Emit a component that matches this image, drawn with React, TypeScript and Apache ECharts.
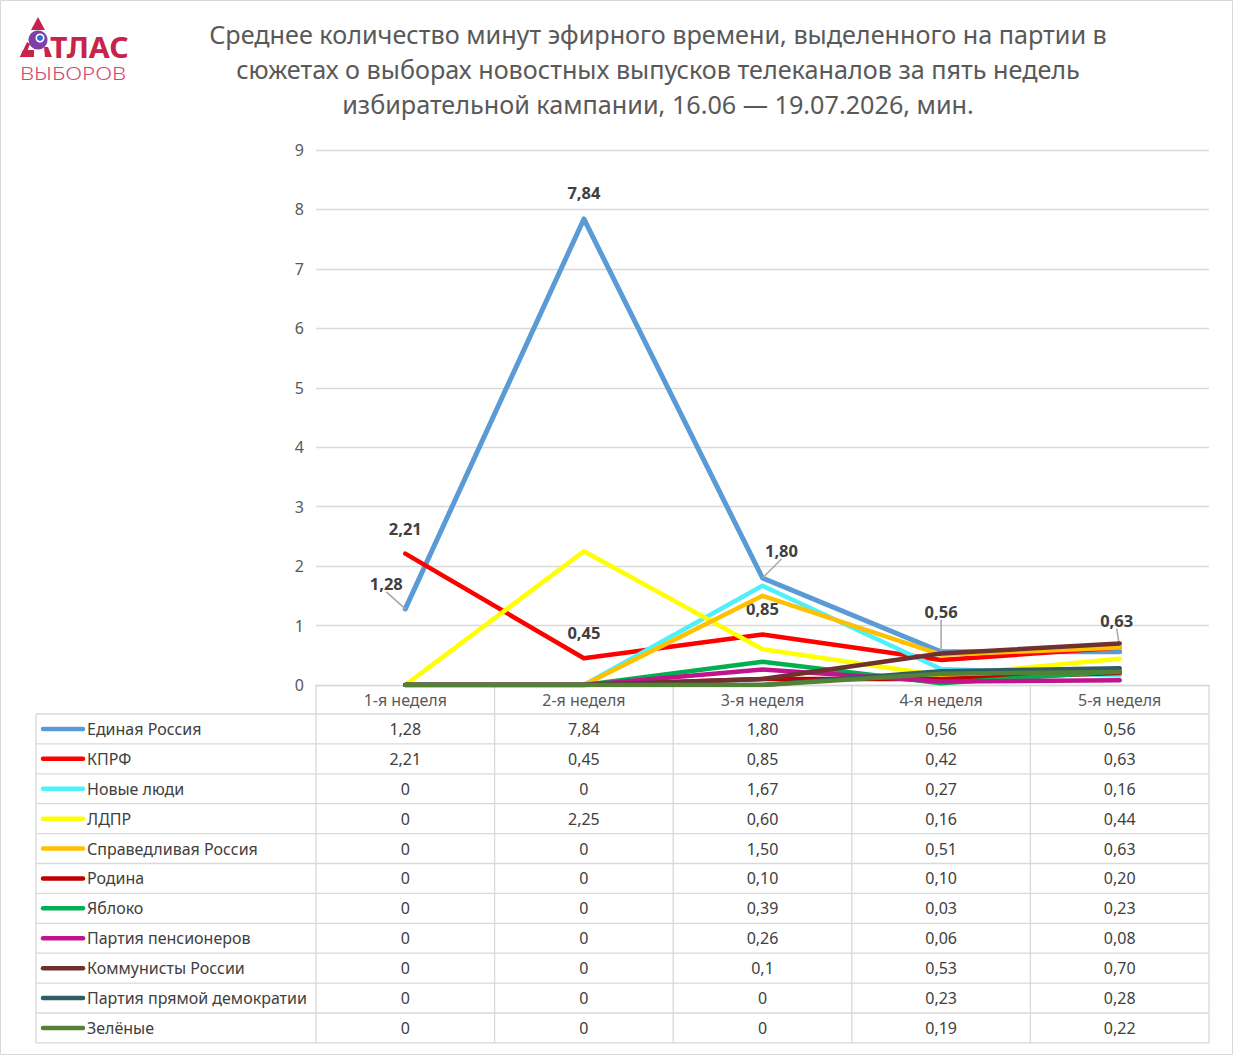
import React, { useEffect, useRef } from "react";
import * as echarts from "echarts";

const weeks = ["1-я неделя", "2-я неделя", "3-я неделя", "4-я неделя", "5-я неделя"];
const yTicks = [0, 1, 2, 3, 4, 5, 6, 7, 8, 9];

const erText = ["1,28", "7,84", "1,80", "0,56", "0,56"];
const kprfText = ["2,21", "0,45", "0,85", "0,42", "0,63"];
const nlText = ["0", "0", "1,67", "0,27", "0,16"];
const ldprText = ["0", "2,25", "0,60", "0,16", "0,44"];
const srText = ["0", "0", "1,50", "0,51", "0,63"];
const rodinaText = ["0", "0", "0,10", "0,10", "0,20"];
const yablokoText = ["0", "0", "0,39", "0,03", "0,23"];
const pensText = ["0", "0", "0,26", "0,06", "0,08"];
const komText = ["0", "0", "0,1", "0,53", "0,70"];
const ppdText = ["0", "0", "0", "0,23", "0,28"];
const greenText = ["0", "0", "0", "0,19", "0,22"];

const seriesNames = [
  "Единая Россия", "КПРФ", "Новые люди", "ЛДПР", "Справедливая Россия", "Родина",
  "Яблоко", "Партия пенсионеров", "Коммунисты России", "Партия прямой демократии", "Зелёные",
];
const seriesTexts = [erText, kprfText, nlText, ldprText, srText, rodinaText, yablokoText, pensText, komText, ppdText, greenText];
const colors = [
  "#5b9bd5", "#ff0000", "#4ff0fa", "#ffff00", "#ffc000", "#c00000",
  "#00b050", "#c0148c", "#6f3030", "#2f5d66", "#538135",
];

// which points carry data labels
const erLabelIdx = [0, 1, 2, 3];
const kprfLabelIdx = [0, 1, 2, 4];

const toNum = (s: string) => parseFloat(s.replace(",", "."));

export default function App() {
  const ref = useRef<HTMLDivElement>(null);
  useEffect(() => {
    document.body.style.margin = "0";
    const chart = echarts.init(ref.current!, null, { renderer: "svg" });
    const GL = 316, GR = 1209, GT = 150, GB = 685;
    const colW = (GR - GL) / weeks.length;
    const rowH0 = 29;
    const rowH = 29.9;
    const tableLeft = 36;
    const tblColor = "#d9d9d9";
    const font = "'Noto Sans', 'Open Sans', sans-serif";

    const labelOffsets: Record<string, [number, number]> = {
      "0-0": [-19, -12], "0-1": [0, -13], "0-2": [19, -14], "0-3": [0, -27],
      "1-0": [0, -12], "1-1": [0, -12], "1-2": [0, -12], "1-4": [-3, -14],
    };
    const leaderKeys = ["0-0", "0-2", "0-3", "1-4"];

    const series = seriesNames.map((name, si) => {
      const labIdx = si === 0 ? erLabelIdx : si === 1 ? kprfLabelIdx : [];
      return {
        name,
        type: "line",
        symbol: "circle",
        symbolSize: 0.01,
        showSymbol: true,
        lineStyle: { width: si === 0 ? 5 : 4.5, color: colors[si], cap: "round", join: "round" },
        itemStyle: { color: colors[si] },
        data: seriesTexts[si].map((t, i) => ({
          value: toNum(t),
          label: {
            show: labIdx.includes(i),
            position: "top",
            distance: 5,
            formatter: t,
            fontFamily: font,
            fontWeight: "bold",
            fontSize: 16.5,
            color: "#404040",
          },
          labelLine: { show: leaderKeys.includes(si + "-" + i), lineStyle: { color: "#a6a6a6", width: 1.5 } },
        })),
        labelLayout: (p: any) => {
          const o = labelOffsets[si + "-" + p.dataIndex];
          return o ? { dx: o[0], dy: o[1] } : {};
        },
        labelLine: { show: false, lineStyle: { color: "#a6a6a6", width: 1.5 } },
        z: 2 + si,
      };
    });

    const graphic: any[] = [];
    graphic.push({ type: "rect", shape: { x: 0.5, y: 0.5, width: 1232, height: 1054 }, style: { fill: "none", stroke: "#d9d9d9", lineWidth: 1 }, silent: true });

    // logo
    const red = "#c8234b";
    graphic.push({ type: "polygon", shape: { points: [[38, 17], [31, 30], [45, 30]] }, style: { fill: red } });
    graphic.push({ type: "polygon", shape: { points: [[27, 42], [30, 44], [25, 57], [20, 57]] }, style: { fill: red } });
    graphic.push({ type: "polygon", shape: { points: [[23, 50], [34, 50], [34, 57], [20, 57]] }, style: { fill: red } });
    graphic.push({ type: "polygon", shape: { points: [[44, 47], [48, 47], [52, 57], [45, 57]] }, style: { fill: red } });
    graphic.push({ type: "circle", shape: { cx: 38, cy: 40, r: 9.5 }, style: { fill: "#7e3fa8" } });
    graphic.push({ type: "circle", shape: { cx: 40, cy: 38, r: 4.5 }, style: { fill: "#ffffff" } });
    graphic.push({ type: "circle", shape: { cx: 40, cy: 38, r: 3 }, style: { fill: "#2f6bdc" } });
    graphic.push({ type: "text", x: 50, y: 47, scaleX: 1.08, style: { text: "ТЛАС", font: "bold 28px 'Noto Sans', sans-serif", fill: red, textVerticalAlign: "middle", textAlign: "left" } });
    graphic.push({ type: "text", x: 20, y: 73, scaleX: 1.24, style: { text: "ВЫБОРОВ", font: "300 18px 'Noto Sans', sans-serif", fill: "#d2466c", textVerticalAlign: "middle", textAlign: "left" } });

    // table: header row
    for (let c = 0; c <= weeks.length; c++) {
      const x = GL + c * colW;
      graphic.push({ type: "line", shape: { x1: x, y1: GB, x2: x, y2: GB + rowH0 + rowH * seriesNames.length }, style: { stroke: tblColor, lineWidth: 1.3 }, silent: true });
    }
    weeks.forEach((w, i) => {
      graphic.push({ type: "text", x: GL + (i + 0.5) * colW, y: GB + rowH0 / 2, style: { text: w, font: `16px ${font}`, fill: "#595959", textAlign: "center", textVerticalAlign: "middle" } });
    });
    const tableTop = GB + rowH0;
    graphic.push({ type: "line", shape: { x1: tableLeft, y1: tableTop, x2: tableLeft, y2: tableTop + rowH * seriesNames.length }, style: { stroke: tblColor, lineWidth: 1.3 } });
    for (let r = 0; r <= seriesNames.length; r++) {
      const y = tableTop + r * rowH;
      graphic.push({ type: "line", shape: { x1: tableLeft, y1: y, x2: GR, y2: y }, style: { stroke: tblColor, lineWidth: 1.3 }, silent: true });
    }
    seriesNames.forEach((name, r) => {
      const cy = tableTop + (r + 0.5) * rowH;
      graphic.push({ type: "line", shape: { x1: 43, y1: cy, x2: 83, y2: cy }, style: { stroke: colors[r], lineWidth: 4.5, lineCap: "round" } });
      graphic.push({ type: "text", x: 87, y: cy, style: { text: name, font: `16px ${font}`, fill: "#404040", textAlign: "left", textVerticalAlign: "middle" } });
      seriesTexts[r].forEach((t, c) => {
        graphic.push({ type: "text", x: GL + (c + 0.5) * colW, y: cy, style: { text: t, font: `16px ${font}`, fill: "#404040", textAlign: "center", textVerticalAlign: "middle" } });
      });
    });

    chart.setOption({
      animation: false,
      backgroundColor: "#ffffff",
      title: {
        text: "Среднее количество минут эфирного времени, выделенного на партии в\nсюжетах о выборах новостных выпусков телеканалов за пять недель\nизбирательной кампании, 16.06 — 19.07.2026, мин.",
        left: 653,
        top: 11,
        textAlign: "center",
        textStyle: { fontFamily: font, fontSize: 25.2, fontWeight: "normal", color: "#595959", lineHeight: 35 },
      },
      grid: { left: GL, right: 1233 - GR, top: GT, bottom: 1055 - GB },
      xAxis: {
        type: "category",
        data: weeks,
        boundaryGap: true,
        axisLine: { show: true, lineStyle: { color: tblColor, width: 1.3 } },
        axisTick: { show: false },
        axisLabel: { show: false },
      },
      yAxis: {
        type: "value",
        min: yTicks[0],
        max: yTicks[yTicks.length - 1],
        interval: 1,
        axisLine: { show: false },
        axisTick: { show: false },
        axisLabel: { fontFamily: font, fontSize: 16, color: "#595959", margin: 12 },
        splitLine: { lineStyle: { color: tblColor, width: 1.3 } },
      },
      series,
      graphic,
    });
    return () => chart.dispose();
  }, []);
  return <div ref={ref} style={{ width: 1233, height: 1055 }} />;
}
